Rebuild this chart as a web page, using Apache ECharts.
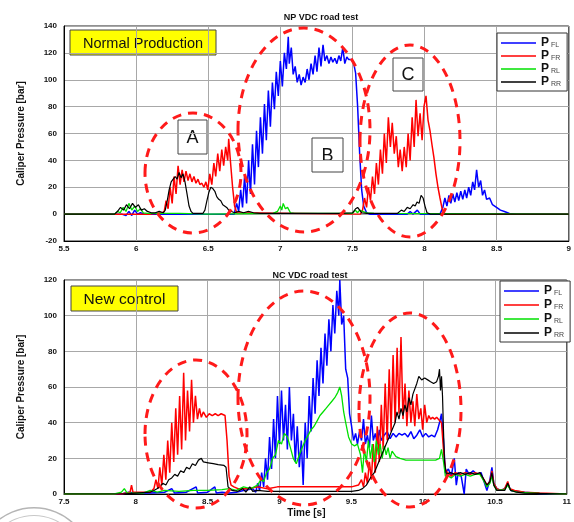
<!DOCTYPE html>
<html>
<head>
<meta charset="utf-8">
<script src="https://cdn.jsdelivr.net/npm/echarts@6/dist/echarts.min.js"></script>
<style>
html,body{margin:0;padding:0;background:#fff}
#chart{width:574px;height:522px}
</style>
</head>
<body>
<div id="chart"></div>
<script>
// ---- Axis ranges / ticks ----
const npTimeRange = [5.5, 9];
const ncTimeRange = [7.5, 11];
const npPressureRange = [-20, 140];
const ncPressureRange = [0, 120];
const timeStep = 0.5;
const pressureStep = 20;

// ---- NP VDC road test: caliper pressures [t (s), p (bar)] ----
const npFL = [[5.5,0],[5.9,0],[5.93,-1],[5.95,2],[5.97,-1],[5.99,3],[6.01,0],[6.03,1],[6.06,0],[6.68,0],[6.697,8],[6.711,2],[6.725,18],[6.738,5],[6.752,28],[6.766,8],[6.78,40],[6.793,15],[6.807,52],[6.821,22],[6.835,62],[6.848,35],[6.862,72],[6.876,45],[6.89,82],[6.903,55],[6.917,92],[6.931,65],[6.945,98],[6.959,78],[6.972,106],[6.986,88],[7.0,114],[7.014,95],[7.028,120],[7.042,108],[7.055,132],[7.062,112],[7.076,124],[7.089,104],[7.103,110],[7.117,98],[7.131,104],[7.144,96],[7.158,102],[7.172,98],[7.186,108],[7.199,100],[7.213,112],[7.227,104],[7.241,118],[7.254,106],[7.268,124],[7.282,110],[7.296,126],[7.309,114],[7.323,118],[7.337,112],[7.351,117],[7.364,113],[7.378,116],[7.392,112],[7.406,118],[7.419,114],[7.433,124],[7.447,112],[7.461,117],[7.474,115],[7.495,115],[7.509,112],[7.522,105],[7.536,80],[7.55,45],[7.564,18],[7.578,6],[7.598,1],[7.619,0],[7.88,0],[7.9,2],[7.92,0],[7.95,3],[7.97,0],[8.107,0],[8.127,5],[8.141,12],[8.155,6],[8.169,14],[8.182,8],[8.196,15],[8.21,9],[8.224,16],[8.237,10],[8.251,17],[8.265,11],[8.279,18],[8.292,12],[8.306,20],[8.32,14],[8.334,24],[8.347,18],[8.361,33],[8.375,20],[8.389,25],[8.402,14],[8.416,18],[8.43,11],[8.451,12],[8.471,7],[8.499,5],[8.526,3],[8.554,2],[8.588,0.5],[8.636,0],[9,0]];
const npFR = [[5.5,0],[6.1,0],[6.18,1],[6.195,2],[6.208,10],[6.222,4],[6.236,20],[6.25,8],[6.263,28],[6.277,15],[6.291,36],[6.305,22],[6.319,33],[6.332,24],[6.346,32],[6.36,25],[6.373,30],[6.387,24],[6.401,28],[6.415,23],[6.429,26],[6.442,22],[6.456,23],[6.47,20],[6.484,24],[6.497,18],[6.511,30],[6.525,22],[6.539,38],[6.552,28],[6.566,45],[6.58,32],[6.594,48],[6.607,36],[6.621,50],[6.635,40],[6.642,56],[6.655,38],[6.669,20],[6.683,6],[6.697,1],[6.71,0],[7.556,0],[7.57,3],[7.584,12],[7.598,5],[7.611,20],[7.625,10],[7.639,28],[7.653,15],[7.666,38],[7.68,22],[7.694,48],[7.708,30],[7.721,60],[7.735,38],[7.749,72],[7.763,50],[7.776,68],[7.79,45],[7.804,58],[7.818,35],[7.831,48],[7.845,32],[7.859,50],[7.873,35],[7.886,60],[7.9,40],[7.914,72],[7.928,50],[7.941,85],[7.955,58],[7.969,75],[7.983,55],[7.996,80],[8.01,88],[8.024,70],[8.038,62],[8.051,52],[8.065,42],[8.079,30],[8.093,20],[8.107,12],[8.12,5],[8.134,1],[8.148,0],[9,0]];
const npRL = [[5.5,0],[5.85,0],[5.87,2],[5.89,1],[5.91,5],[5.93,2],[5.95,8],[5.97,3],[5.99,6],[6.01,2],[6.03,4],[6.05,1],[6.08,0.5],[6.3,0.5],[6.5,0],[6.95,0.5],[6.98,2],[7.0,6],[7.01,3],[7.02,8],[7.035,4],[7.05,5],[7.07,1],[7.1,0.5],[7.5,0.5],[7.52,3],[7.535,1],[7.55,3],[7.57,2],[7.6,1],[7.65,0.5],[9,0]];
const npRR = [[5.5,0],[5.85,0],[5.871,2],[5.892,5],[5.913,3],[5.933,7],[5.954,4],[5.975,8],[5.995,5],[6.016,7],[6.036,3],[6.057,4],[6.078,2],[6.105,1],[6.133,1],[6.16,2],[6.188,1],[6.202,3],[6.216,10],[6.229,18],[6.243,24],[6.257,26],[6.271,28],[6.284,26],[6.298,31],[6.312,27],[6.325,30],[6.339,24],[6.353,15],[6.367,6],[6.381,2],[6.394,0.5],[6.463,0.5],[6.477,3],[6.491,10],[6.504,16],[6.518,20],[6.532,19],[6.546,17],[6.559,13],[6.573,11],[6.587,10],[6.601,7],[6.614,8],[6.628,5],[6.642,3],[6.662,2],[6.683,1],[6.711,2],[6.745,1],[6.779,2],[6.814,1],[6.86,0.5],[7.4,0.5],[7.501,1],[7.522,4],[7.536,5],[7.55,3],[7.564,1],[7.6,0.5],[7.811,0.5],[7.839,3],[7.859,2],[7.88,5],[7.9,4],[7.921,7],[7.935,6],[7.948,9],[7.962,8],[7.976,14],[7.99,12],[8.003,6],[8.017,1],[8.04,0],[9,0]];

// ---- NC VDC road test: caliper pressures [t (s), p (bar)] ----
const ncFL = [[7.5,0],[7.9,0],[7.95,1],[8.0,0.5],[8.1,0.5],[8.2,1],[8.25,3],[8.27,0.5],[8.35,1],[8.42,4],[8.43,0.5],[8.5,1],[8.55,4],[8.56,0.5],[8.6,1],[8.65,0.5],[8.7,1],[8.75,2],[8.814,3],[8.835,1],[8.848,6],[8.862,2],[8.876,12],[8.89,4],[8.903,20],[8.917,8],[8.931,32],[8.945,14],[8.959,42],[8.972,20],[8.986,55],[9.0,28],[9.014,58],[9.028,30],[9.042,50],[9.055,25],[9.069,60],[9.083,30],[9.097,45],[9.11,18],[9.124,38],[9.138,15],[9.152,30],[9.165,5],[9.179,40],[9.193,20],[9.207,55],[9.22,35],[9.234,65],[9.248,45],[9.262,75],[9.275,55],[9.289,82],[9.303,62],[9.317,90],[9.33,72],[9.344,98],[9.358,80],[9.372,106],[9.385,90],[9.399,114],[9.413,100],[9.42,120],[9.433,95],[9.447,100],[9.461,70],[9.475,65],[9.488,45],[9.502,38],[9.516,30],[9.53,34],[9.543,28],[9.557,35],[9.571,30],[9.585,42],[9.598,28],[9.612,33],[9.626,26],[9.64,44],[9.653,30],[9.667,34],[9.681,28],[9.695,36],[9.709,30],[9.729,33],[9.75,35],[9.77,31],[9.791,34],[9.812,32],[9.832,34],[9.853,33],[9.873,34],[9.894,32],[9.915,35],[9.935,31],[9.956,33],[9.977,36],[9.997,32],[10.018,34],[10.039,32],[10.059,33],[10.08,32],[10.101,36],[10.114,40],[10.128,45],[10.142,30],[10.155,12],[10.176,14],[10.196,10],[10.217,20],[10.231,5],[10.244,12],[10.265,10],[10.286,0],[10.3,14],[10.32,11],[10.348,13],[10.375,11],[10.403,12],[10.424,7],[10.444,2],[10.465,8],[10.479,15],[10.492,6],[10.513,3],[10.541,2],[10.568,3],[10.589,6],[10.61,2],[10.651,1.5],[10.706,1],[10.81,0.3],[11,0]];
const ncFR = [[7.5,0],[7.9,0],[7.96,1],[7.97,5],[7.98,1],[8.05,1],[8.1,1],[8.126,3],[8.14,8],[8.154,3],[8.167,15],[8.181,5],[8.195,22],[8.209,8],[8.222,30],[8.236,12],[8.25,40],[8.264,18],[8.278,48],[8.291,22],[8.305,55],[8.319,25],[8.333,68],[8.346,30],[8.36,58],[8.374,35],[8.388,64],[8.401,40],[8.415,55],[8.429,42],[8.443,48],[8.456,43],[8.47,46],[8.491,43],[8.511,45],[8.532,44],[8.553,45],[8.573,44],[8.594,45],[8.621,44],[8.635,30],[8.649,10],[8.663,5],[8.683,4],[8.711,3],[8.78,3],[8.848,4],[8.917,3],[8.986,4],[9.124,4],[9.261,4],[9.399,4],[9.502,4],[9.55,5],[9.571,8],[9.585,4],[9.598,12],[9.612,6],[9.626,18],[9.64,8],[9.653,28],[9.667,12],[9.681,38],[9.695,18],[9.709,50],[9.722,25],[9.736,62],[9.75,30],[9.764,70],[9.777,35],[9.791,78],[9.805,40],[9.819,82],[9.832,45],[9.846,88],[9.86,42],[9.874,62],[9.887,38],[9.901,58],[9.915,40],[9.929,52],[9.942,38],[9.956,56],[9.97,42],[9.984,48],[9.997,36],[10.011,50],[10.025,40],[10.039,44],[10.052,42],[10.066,43],[10.08,42],[10.094,43],[10.107,42],[10.128,40],[10.142,25],[10.155,14],[10.169,12],[10.196,10],[10.224,12],[10.259,11],[10.293,12],[10.328,11],[10.362,12],[10.396,11],[10.424,8],[10.444,5],[10.465,7],[10.479,13],[10.492,6],[10.513,3],[10.541,2],[10.568,3],[10.589,7],[10.603,3],[10.637,2],[10.706,1],[10.81,0.5],[11,0]];
const ncRL = [[7.5,0],[7.85,0],[7.9,1],[7.92,3],[7.94,0.5],[8.05,0.5],[8.1,2],[8.15,1],[8.2,2],[8.3,1.5],[8.4,2],[8.5,2],[8.6,2.5],[8.65,3],[8.7,2],[8.75,4],[8.8,3],[8.848,5],[8.869,8],[8.89,7],[8.91,12],[8.931,14],[8.952,20],[8.972,22],[8.993,30],[9.014,28],[9.034,34],[9.055,32],[9.076,26],[9.096,20],[9.117,17],[9.138,22],[9.158,26],[9.179,30],[9.2,33],[9.22,36],[9.241,38],[9.262,41],[9.282,44],[9.303,46],[9.324,48],[9.344,50],[9.365,52],[9.385,54],[9.406,57],[9.42,60],[9.433,55],[9.447,46],[9.461,40],[9.481,32],[9.502,28],[9.522,27],[9.543,28],[9.564,22],[9.578,12],[9.591,25],[9.605,18],[9.619,30],[9.633,20],[9.646,28],[9.66,18],[9.674,30],[9.688,22],[9.701,28],[9.715,20],[9.729,27],[9.743,22],[9.756,26],[9.77,20],[9.784,24],[9.811,21],[9.839,20],[9.88,19],[9.949,19],[10.018,19],[10.087,19],[10.114,20],[10.128,25],[10.142,18],[10.155,10],[10.176,10],[10.196,9],[10.224,11],[10.259,10],[10.293,11],[10.328,10],[10.362,11],[10.396,11],[10.424,7],[10.444,4],[10.465,6],[10.479,10],[10.492,5],[10.513,2],[10.568,2.5],[10.589,5],[10.61,2],[10.651,1],[10.706,0.8],[10.81,0.3],[11,0]];
const ncRR = [[7.5,0],[7.9,0],[8.0,0.5],[8.1,1],[8.126,2],[8.147,3],[8.167,4],[8.188,6],[8.209,5],[8.229,8],[8.25,9],[8.271,11],[8.291,10],[8.312,13],[8.333,12],[8.353,15],[8.374,14],[8.394,17],[8.415,16],[8.436,19],[8.456,20],[8.47,18],[8.504,17.5],[8.539,17],[8.573,16.5],[8.614,16],[8.628,15],[8.642,4],[8.67,2],[8.711,1.5],[8.745,3],[8.766,1],[8.793,4],[8.814,1.5],[8.848,2],[8.917,1.5],[9.055,1.5],[9.261,1.5],[9.502,1.5],[9.55,2],[9.578,3],[9.605,5],[9.633,9],[9.66,12],[9.681,16],[9.702,20],[9.722,24],[9.743,28],[9.764,32],[9.784,36],[9.805,40],[9.818,46],[9.832,42],[9.846,48],[9.86,44],[9.873,50],[9.887,46],[9.901,54],[9.915,50],[9.929,56],[9.942,55],[9.956,62],[9.97,66],[9.99,64],[10.011,65],[10.032,64],[10.052,63],[10.073,62],[10.094,63],[10.107,66],[10.114,70],[10.121,58],[10.128,66],[10.135,55],[10.142,35],[10.149,18],[10.162,11],[10.19,12],[10.224,11],[10.259,12],[10.293,11],[10.328,12],[10.362,11],[10.396,12],[10.424,8],[10.444,5],[10.465,7],[10.479,12],[10.492,5],[10.513,2],[10.568,2],[10.589,6],[10.61,2],[10.651,1],[10.706,0.5],[11,0]];

const channelNames = ['FL', 'FR', 'RL', 'RR'];
const channelColors = ['#0000ff', '#ff0000', '#00e000', '#000000'];
const channelWidths = [1.5, 1.5, 1.3, 1.2];

const FONT = '"Liberation Sans", Arial, sans-serif';

function timeAxis(gridIndex, range, withName) {
  return {
    type: 'value', gridIndex, min: range[0], max: range[1], interval: timeStep,
    axisLine: { show: true, onZero: false, lineStyle: { color: '#000', width: 1 } },
    axisTick: { show: false },
    axisLabel: { color: '#111', fontSize: 8, fontWeight: 'bold', fontFamily: FONT, margin: 4 },
    splitLine: { show: true, lineStyle: { color: '#a8a8a8', width: 1 } },
    name: withName ? 'Time [s]' : '', nameLocation: 'middle', nameGap: 14,
    nameTextStyle: { color: '#111', fontSize: 10, fontWeight: 'bold', fontFamily: FONT, padding: [0, 18, 0, 0] }
  };
}
function pressureAxis(gridIndex, range) {
  return {
    type: 'value', gridIndex, min: range[0], max: range[1], interval: pressureStep,
    axisLine: { show: true, onZero: false, lineStyle: { color: '#000', width: 1 } },
    axisTick: { show: false },
    axisLabel: { color: '#111', fontSize: 8, fontWeight: 'bold', fontFamily: FONT, margin: 7 },
    splitLine: { show: true, lineStyle: { color: '#a8a8a8', width: 1 } },
    name: 'Caliper Pressure [bar]', nameLocation: 'middle', nameGap: 38,
    nameTextStyle: { color: '#111', fontSize: 10, fontWeight: 'bold', fontFamily: FONT }
  };
}

function makeSeries(prefix, axisIndex, datasets) {
  return datasets.map((d, i) => ({
    name: prefix + channelNames[i],
    type: 'line', xAxisIndex: axisIndex, yAxisIndex: axisIndex,
    data: d, showSymbol: false, symbol: 'none', smooth: false,
    clip: true, animation: false,
    lineStyle: { color: channelColors[i], width: channelWidths[i] },
    itemStyle: { color: channelColors[i] },
    z: 2 + i
  }));
}

function makeLegend(prefix, left, top, gap) {
  return {
    left, top, orient: 'vertical', selectedMode: false,
    data: channelNames.map(n => prefix + n),
    icon: 'rect', itemWidth: 35, itemHeight: 1.5, itemGap: gap,
    padding: [4, 6, 3, 4],
    backgroundColor: '#fff', borderColor: '#333', borderWidth: 1,
    formatter: name => '{p|P}{s|' + name.slice(-2) + '}',
    textStyle: {
      rich: {
        p: { fontSize: 12, fontWeight: 'bold', color: '#111', fontFamily: FONT, lineHeight: 11 },
        s: { fontSize: 7, color: '#444', fontFamily: FONT, padding: [5, 0, 0, 2], lineHeight: 8 }
      }
    }
  };
}

function labelBox(x, y, w, h, text, fill, fontSize) {
  return {
    type: 'group', z: 50,
    children: [
      { type: 'rect', shape: { x, y, width: w, height: h }, style: { fill, stroke: '#444', lineWidth: 1 } },
      { type: 'text', style: { x: x + w / 2, y: y + h / 2 + 1, text, fill: '#111', font: fontSize + 'px ' + FONT, align: 'center', verticalAlign: 'middle' } }
    ]
  };
}

function dashedEllipse(cx, cy, rx, ry) {
  return {
    type: 'ellipse', z: 40, silent: true,
    shape: { cx, cy, rx, ry },
    style: { fill: 'none', stroke: '#ff1a1a', lineWidth: 3, lineDash: [9, 7] }
  };
}

const chart = echarts.init(document.getElementById('chart'), null, { renderer: 'canvas' });
chart.setOption({
  animation: false,
  backgroundColor: '#fff',
  title: [
    { text: 'NP VDC road test', left: 316, top: 8, textAlign: 'center',
      textStyle: { fontSize: 9, fontWeight: 'bold', color: '#111', fontFamily: FONT } },
    { text: 'NC VDC road test', left: 305, top: 266, textAlign: 'center',
      textStyle: { fontSize: 9, fontWeight: 'bold', color: '#111', fontFamily: FONT } }
  ],
  grid: [
    { left: 64, top: 26, width: 508, height: 215, show: true, borderColor: '#222', borderWidth: 1, backgroundColor: '#fff' },
    { left: 64, top: 280, width: 508, height: 214, show: true, borderColor: '#222', borderWidth: 1, backgroundColor: '#fff' }
  ],
  xAxis: [timeAxis(0, npTimeRange, false), timeAxis(1, ncTimeRange, true)],
  yAxis: [pressureAxis(0, npPressureRange), pressureAxis(1, ncPressureRange)],
  legend: [makeLegend('np', 497, 33, 1), makeLegend('nc', 500, 281, 2)],
  series: [].concat(
    makeSeries('np', 0, [npFL, npFR, npRL, npRR]),
    makeSeries('nc', 1, [ncFL, ncFR, ncRL, ncRR])
  ),
  graphic: [
    dashedEllipse(193, 173, 48, 60),
    dashedEllipse(304, 130, 66, 102),
    dashedEllipse(410, 141, 50, 96),
    dashedEllipse(196, 434, 51, 74),
    dashedEllipse(304, 398, 66, 107),
    dashedEllipse(410, 410, 51, 97),
    labelBox(70, 30, 146, 25, 'Normal Production', '#ffff00', 14.5),
    labelBox(71, 286, 107, 25, 'New control', '#ffff00', 15.5),
    labelBox(178, 120, 29, 34, 'A', '#fff', 18),
    labelBox(312, 138, 31, 34, 'B', '#fff', 18),
    labelBox(393, 58, 30, 33, 'C', '#fff', 18),
    { type: 'ring', z: 1, silent: true, shape: { cx: 34, cy: 565, r: 58, r0: 56.5 }, style: { fill: '#b5b5b5' } },
    { type: 'ring', z: 1, silent: true, shape: { cx: 34, cy: 565, r: 50, r0: 49 }, style: { fill: '#c8c8c8' } }
  ]
});
</script>
</body>
</html>
